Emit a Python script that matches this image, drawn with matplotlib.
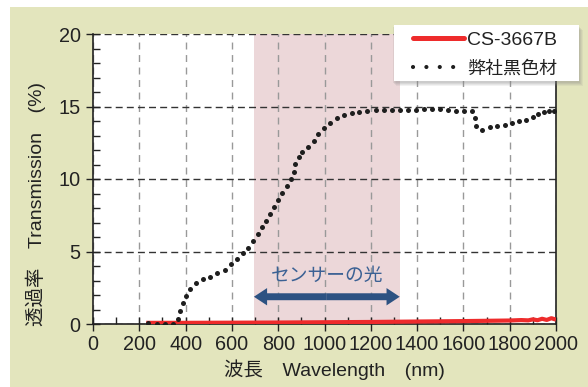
import matplotlib
matplotlib.use("Agg")
import matplotlib.pyplot as plt
from matplotlib.patches import Rectangle
from matplotlib.lines import Line2D
from matplotlib.ticker import MultipleLocator

plt.rcParams['font.family'] = ['Liberation Sans', 'Noto Sans CJK JP']

# ---- data ----
own_nm = [239, 275, 311, 344, 367, 376, 387, 400, 419, 443, 474, 505, 537, 569, 595, 621, 646, 671,
          693, 711, 729, 749, 765, 780, 799, 818, 837, 855, 868, 874, 890, 904, 929, 953, 973, 997,
          1022, 1053, 1084, 1117, 1150, 1185, 1221, 1256, 1290, 1326, 1361, 1395, 1430, 1464, 1499,
          1535, 1570, 1604, 1639, 1650, 1656, 1682, 1715, 1745, 1778, 1808, 1840, 1870, 1899, 1924,
          1948, 1971, 1991]
own_val = [0.05, 0.0, 0.0, 0.0, 0.34, 0.9, 1.43, 1.93, 2.39, 2.8, 3.08, 3.26, 3.49, 3.75, 4.11, 4.46,
           4.87, 5.26, 5.72, 6.18, 6.67, 7.13, 7.6, 8.09, 8.57, 9.01, 9.5, 9.98, 10.5, 11.06, 11.54,
           11.84, 12.23, 12.62, 13.08, 13.52, 13.89, 14.19, 14.41, 14.57, 14.64, 14.71, 14.73, 14.76,
           14.76, 14.76, 14.78, 14.78, 14.8, 14.85, 14.8, 14.73, 14.69, 14.69, 14.67, 14.2, 13.66,
           13.38, 13.61, 13.63, 13.7, 13.86, 14.0, 14.07, 14.25, 14.48, 14.64, 14.71, 14.69]

cs_nm = [230, 400, 600, 800, 1000, 1200, 1400, 1600, 1800, 1850, 1880, 1900, 1920, 1940, 1960, 1980, 2000]
cs_val = [0.08, 0.08, 0.09, 0.1, 0.12, 0.14, 0.17, 0.2, 0.24, 0.27, 0.25, 0.32, 0.26, 0.36, 0.28, 0.4, 0.3]

sensor_range = [695, 1325]
label_cs = "CS-3667B"
label_own = "弊社黒色材"
sensor_text = "センサーの光"
x_ticks = [0, 200, 400, 600, 800, 1000, 1200, 1400, 1600, 1800, 2000]
y_ticks = [0, 5, 10, 15, 20]

# ---- style ----
OLIVE = '#e3e5bd'
PINK = '#ecd7d9'
RED = '#ee2b2b'
BLUE = '#2d5282'
TXT = '#222222'
W, H = 588, 387

fig = plt.figure(figsize=(5.88, 3.87), dpi=100, facecolor='white')
fig.patches.append(Rectangle((10/W, 0), 1 - 10/W, 1 - 7/H, transform=fig.transFigure,
                             facecolor=OLIVE, edgecolor='none', zorder=-10))
ax = fig.add_axes([93/W, 1 - 324/H, (556 - 93)/W, (324 - 34)/H])
ax.set_facecolor('white')

ax.axvspan(sensor_range[0], sensor_range[1], color=PINK, zorder=0.2, lw=0)

ax.plot(cs_nm, cs_val, color=RED, lw=3.0, solid_capstyle='butt', zorder=3)
ax.plot(own_nm, own_val, ls='none', marker='o', ms=3.6, color='#1e1e1e', mec='none', zorder=4)

ax.set_xlim(0, 2000)
ax.set_ylim(0, 20)
ax.set_xticks(x_ticks)
ax.set_yticks(y_ticks)
ax.xaxis.set_minor_locator(MultipleLocator(100))
ax.yaxis.set_minor_locator(MultipleLocator(1))
ax.tick_params(which='major', direction='inout', length=10, width=1, labelsize=14.3, color=TXT)
ax.tick_params(which='minor', direction='in', length=5, width=1, color=TXT)
ax.tick_params(axis='x', pad=3)
ax.tick_params(axis='y', pad=4)
for lab in ax.get_xticklabels() + ax.get_yticklabels():
    lab.set_color(TXT)

ax.set_axisbelow(True)
ax.xaxis.grid(True, color='#999999', lw=1, ls=(0, (5, 4)))
ax.yaxis.grid(True, color='#333333', lw=1, ls=(0, (5, 3)))

ax.spines['top'].set_visible(False)
for s in ['left', 'bottom', 'right']:
    ax.spines[s].set_color(TXT)
    ax.spines[s].set_linewidth(1.2)

# sensor arrow (two halves from the middle)
mid = (sensor_range[0] + sensor_range[1]) / 2
ay = 1.88
for end in sensor_range:
    ax.annotate('', xy=(end, ay), xytext=(mid, ay),
                arrowprops=dict(arrowstyle='simple,head_length=0.95,head_width=1.25,tail_width=0.5',
                                mutation_scale=10, color=BLUE, shrinkA=0, shrinkB=0, lw=0),
                zorder=5)
ax.text(1013, 3.3, sensor_text, color='#3b6194', fontsize=13.5, ha='center', va='center', zorder=5)

# legend box with soft shadow
bx0, by0, bx1, by1 = 394, 25, 579, 81
for dx, dy, a in [(4, 5, 0.10), (3, 4, 0.12), (2, 3, 0.15), (1, 2, 0.15)]:
    fig.patches.append(Rectangle(((bx0 + dx - 2)/W, 1 - (by1 + dy)/H), (bx1 - bx0 + 2)/W, (by1 - by0)/H,
                                 transform=fig.transFigure, facecolor='#888888', alpha=a,
                                 edgecolor='none', zorder=20))
fig.patches.append(Rectangle((bx0/W, 1 - by1/H), (bx1 - bx0)/W, (by1 - by0)/H,
                             transform=fig.transFigure, facecolor='white', edgecolor='none', zorder=21))

handles = [Line2D([], [], color=RED, lw=3.6, solid_capstyle='round'),
           Line2D([], [], color='#1e1e1e', lw=3.0, ls=(0, (0.01, 3.2)), dash_capstyle='round')]
leg = fig.legend(handles, [label_cs, label_own], loc='upper left',
                 bbox_to_anchor=(413/W, 1 - 31/H), bbox_transform=fig.transFigure,
                 fontsize=14, frameon=False, handlelength=2.6, handletextpad=0.2,
                 labelspacing=0.6, borderpad=0, borderaxespad=0)
leg.set_zorder(30)
for t in leg.get_texts():
    t.set_color(TXT)
leg.get_texts()[1].set_fontsize(13)

fig.text(36/W, 1 - 204/H, "透過率　Transmission　(%)", rotation=90, ha='center', va='center',
         fontsize=14, color=TXT)
fig.text(334/W, 1 - 370/H, "波長　Wavelength　(nm)", ha='center', va='center',
         fontsize=14, color=TXT)

fig.savefig('out.png', dpi=100, facecolor='white')
